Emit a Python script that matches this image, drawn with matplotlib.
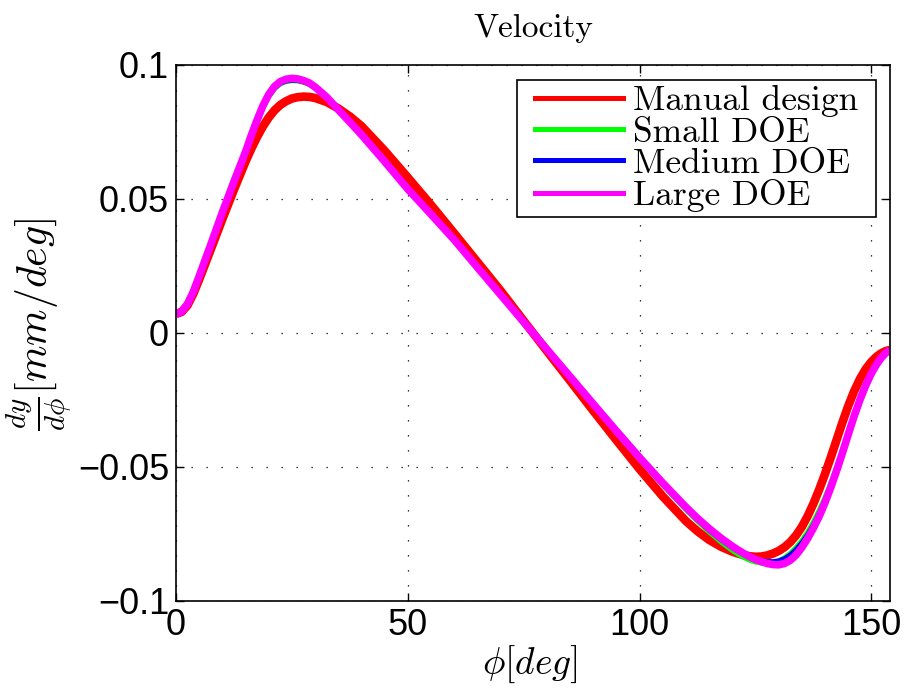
import matplotlib
matplotlib.use('Agg')
import matplotlib.pyplot as plt
from matplotlib.path import Path
from matplotlib.lines import Line2D

phi = [0, 1.25, 2.5, 3.75, 5, 7.5, 10, 12.5, 15,
       16.25, 17.5, 18.75, 20, 21.25, 22.5, 23.75, 25, 26.25, 27.5, 28.75, 30,
       32.5, 35, 37.5, 40, 45, 50, 55, 60, 65, 70, 75, 80, 85, 90, 95, 100, 105, 110,
       112.5, 115, 117.5, 120, 121.25, 122.5, 123.75, 125, 126.25, 127.5, 128.75, 130,
       131.25, 132.5, 133.75, 135, 136.25, 137.5, 138.75, 140, 141.25, 142.5, 143.75, 145,
       146.25, 147.5, 148.75, 150, 151, 152, 153, 154]

manual = [0.0071, 0.0079, 0.0104, 0.0147, 0.0200, 0.0312, 0.0425, 0.0535, 0.0640,
          0.0688, 0.0732, 0.0771, 0.0804, 0.0831, 0.0851, 0.0865, 0.0875, 0.0880, 0.0882, 0.0881, 0.0877,
          0.0862, 0.0838, 0.0808, 0.0772, 0.0680, 0.0580, 0.0478, 0.0372, 0.0265, 0.0158, 0.0045, -0.0067,
          -0.0178, -0.0290, -0.0400, -0.0508, -0.0610, -0.0702,
          -0.0740, -0.0772, -0.0797, -0.0816, -0.0823, -0.0829, -0.0833, -0.0835, -0.0834, -0.0830, -0.0823, -0.0813,
          -0.0799, -0.0780, -0.0755, -0.0723, -0.0683, -0.0636, -0.0583, -0.0525, -0.0463, -0.0398, -0.0333, -0.0272,
          -0.0218, -0.0172, -0.0135, -0.0107, -0.0090, -0.0077, -0.0068, -0.0063]

small = [0.0071, 0.0079, 0.0106, 0.0151, 0.0208, 0.0326, 0.0446, 0.0561, 0.0673,
         0.0733, 0.0789, 0.0840, 0.0882, 0.0911, 0.0929, 0.0938, 0.0941, 0.0940, 0.0935, 0.0927, 0.0913,
         0.0877, 0.0833, 0.0788, 0.0741, 0.0642, 0.0540, 0.0446, 0.0351, 0.0248, 0.0145, 0.0042, -0.0062,
         -0.0166, -0.0270, -0.0372, -0.0472, -0.0568, -0.0660,
         -0.0703, -0.0743, -0.0780, -0.0812, -0.0826, -0.0838, -0.0848, -0.0855, -0.0859, -0.0860, -0.0857, -0.0850,
         -0.0838, -0.0822, -0.0800, -0.0774, -0.0742, -0.0704, -0.0660, -0.0612, -0.0558, -0.0498, -0.0434, -0.0367,
         -0.0302, -0.0243, -0.0191, -0.0147, -0.0118, -0.0094, -0.0075, -0.0063]

medium = [0.0071, 0.0079, 0.0107, 0.0152, 0.0210, 0.0328, 0.0448, 0.0563, 0.0674,
          0.0735, 0.0791, 0.0843, 0.0885, 0.0914, 0.0932, 0.0940, 0.0943, 0.0942, 0.0937, 0.0929, 0.0915,
          0.0878, 0.0833, 0.0787, 0.0740, 0.0641, 0.0539, 0.0445, 0.0350, 0.0247, 0.0144, 0.0041, -0.0062,
          -0.0165, -0.0268, -0.0369, -0.0468, -0.0564, -0.0655,
          -0.0697, -0.0736, -0.0771, -0.0801, -0.0814, -0.0826, -0.0836, -0.0844, -0.0849, -0.0852, -0.0853, -0.0850,
          -0.0842, -0.0828, -0.0808, -0.0783, -0.0752, -0.0715, -0.0672, -0.0624, -0.0569, -0.0508, -0.0443, -0.0374,
          -0.0308, -0.0248, -0.0195, -0.0150, -0.0120, -0.0095, -0.0076, -0.0063]

large = [0.0071, 0.0080, 0.0108, 0.0154, 0.0212, 0.0330, 0.0450, 0.0565, 0.0676,
         0.0738, 0.0795, 0.0848, 0.0890, 0.0920, 0.0938, 0.0947, 0.0950, 0.0948, 0.0942, 0.0933, 0.0918,
         0.0880, 0.0833, 0.0787, 0.0740, 0.0640, 0.0537, 0.0443, 0.0348, 0.0245, 0.0143, 0.0041, -0.0061,
         -0.0163, -0.0265, -0.0366, -0.0465, -0.0560, -0.0650,
         -0.0692, -0.0730, -0.0765, -0.0796, -0.0810, -0.0823, -0.0835, -0.0845, -0.0853, -0.0860, -0.0864, -0.0865,
         -0.0860, -0.0848, -0.0828, -0.0800, -0.0766, -0.0727, -0.0683, -0.0632, -0.0575, -0.0513, -0.0447, -0.0378,
         -0.0311, -0.0250, -0.0196, -0.0150, -0.0120, -0.0095, -0.0076, -0.0063]

series_labels = ['Manual design', 'Small DOE', 'Medium DOE', 'Large DOE']
series_colors = ['#ff0000', '#00ff00', '#0000ff', '#ff00ff']
xticks = [0, 50, 100, 150]
xtick_labels = ['0', '50', '100', '150']
yticks = [-0.1, -0.05, 0, 0.05, 0.1]
ytick_labels = ['\u22120.1', '\u22120.05', '0', '0.05', '0.1']

plt.rcParams['mathtext.fontset'] = 'cm'

fig = plt.figure(figsize=(9.05, 6.92), dpi=100)
ax = fig.add_axes([176 / 905, 1 - 601 / 692, 714 / 905, 536 / 692])

widths = [6.2, 3.5, 3.5, 5.5]
for ys, c, lw in zip([manual, small, medium, large], series_colors, widths):
    ax.plot(phi, ys, color=c, lw=lw, solid_capstyle='butt', solid_joinstyle='round')

ax.set_xlim(0, 154)
ax.set_ylim(-0.1, 0.1)
ax.set_xticks(xticks)
ax.set_xticklabels(xtick_labels, fontfamily='Liberation Sans')
ax.set_yticks(yticks)
ax.set_yticklabels(ytick_labels, fontfamily='Liberation Sans')
ax.tick_params(direction='in', length=6, width=1, top=True, right=True,
               labelsize=26, pad=5)
for s in ax.spines.values():
    s.set_linewidth(1.2)
ax.grid(True, color='black', linestyle=(0, (1, 11)), linewidth=0.9)

ax.set_title('Velocity', fontfamily='cmr10', fontsize=24, pad=20)
ax.set_xlabel(r'$\phi[deg]$', fontsize=27)
ax.set_ylabel(r'$\frac{dy}{d\phi}[mm/deg]$', fontsize=30)
ax.xaxis.set_label_coords(0.496, -0.08)
ax.yaxis.set_label_coords(-0.142, 0.515)

handles = [Line2D([], [], color=c, lw=3.6) for c in series_colors]
leg = ax.legend(handles, series_labels, loc='upper right', bbox_to_anchor=(0.963, 0.972),
                borderaxespad=0, prop={'family': 'cmr10', 'size': 25.5},
                handlelength=2.49, handletextpad=0.28, labelspacing=-0.02,
                borderpad=0.15, fancybox=False, framealpha=1, edgecolor='black')
leg.get_frame().set_linewidth(1.2)


def wide_box(x0, y0, width, height, mutation_size):
    padx = 0.35 * mutation_size
    x1 = x0 + width + padx
    xa = x0 - padx
    y1 = y0 + height
    return Path([(xa, y0), (x1, y0), (x1, y1), (xa, y1), (xa, y0)], closed=True)


leg.get_frame().set_boxstyle(wide_box)

fig.savefig('out.png', dpi=100)
